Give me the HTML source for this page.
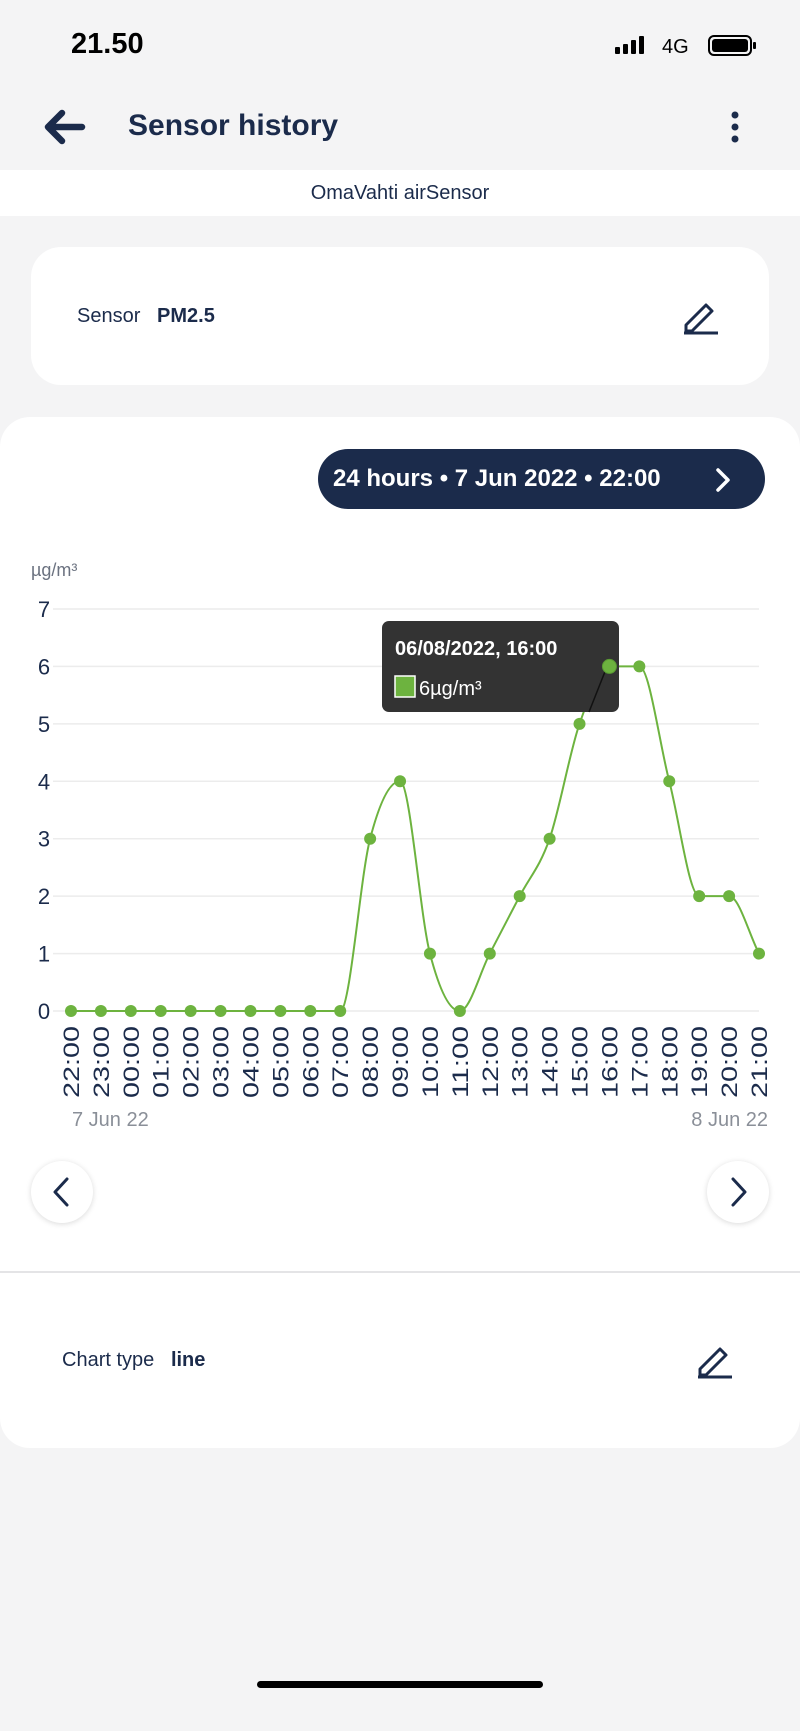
<!DOCTYPE html>
<html><head><meta charset="utf-8"><style>
*{margin:0;padding:0;box-sizing:border-box}
body{width:800px;height:1731px;background:#f4f4f5;font-family:"Liberation Sans",sans-serif;position:relative;overflow:hidden;color:#1b2b4b}
.a{position:absolute;white-space:nowrap}
</style></head><body>
<div class="a" style="left:71px;top:28px;font-size:29px;font-weight:bold;color:#000">21.50</div>
<svg class="a" style="left:612px;top:34px" width="150" height="22">
<rect x="3" y="13" width="5" height="7" rx="1" fill="#000"/><rect x="11" y="10" width="5" height="10" rx="1" fill="#000"/><rect x="19" y="6" width="5" height="14" rx="1" fill="#000"/><rect x="27" y="2" width="5" height="18" rx="1" fill="#000"/>
<text x="50" y="19" font-size="20" font-family="Liberation Sans" fill="#000">4G</text>
<rect x="97" y="2" width="42" height="19" rx="5" fill="none" stroke="#000" stroke-width="2"/><rect x="100" y="5" width="36" height="13" rx="3" fill="#000"/><rect x="141" y="8" width="3" height="7" rx="1" fill="#000"/></svg>
<svg class="a" style="left:42px;top:108px" width="44" height="38"><path d="M40 19H6M20 5L6 19L20 33" stroke="#1b2b4b" stroke-width="6.5" fill="none" stroke-linecap="round" stroke-linejoin="round"/></svg>
<div class="a" style="left:128px;top:109px;font-size:30px;font-weight:bold">Sensor history</div>
<svg class="a" style="left:729px;top:110px" width="12" height="36"><circle cx="6" cy="5" r="3.5" fill="#1b2b4b"/><circle cx="6" cy="17" r="3.5" fill="#1b2b4b"/><circle cx="6" cy="29" r="3.5" fill="#1b2b4b"/></svg>
<div class="a" style="left:0;top:170px;width:800px;height:46px;background:#fff;text-align:center;font-size:20px;line-height:46px">OmaVahti airSensor</div>
<div class="a" style="left:31px;top:247px;width:738px;height:138px;background:#fff;border-radius:30px"></div>
<div class="a" style="left:77px;top:305px;font-size:20px">Sensor&nbsp;&nbsp; <b>PM2.5</b></div>
<svg class="a" style="left:680px;top:296px" width="42" height="40"><path d="M6 29L26 9l6 6L12 35H6z" fill="none" stroke="#1b2b4b" stroke-width="3" stroke-linejoin="round"/><path d="M4 37h34" stroke="#1b2b4b" stroke-width="3"/></svg>
<div class="a" style="left:0;top:417px;width:800px;height:1031px;background:#fff;border-radius:30px"></div>
<div class="a" style="left:0;top:1271px;width:800px;height:2px;background:#e4e4e6"></div>
<div class="a" style="left:318px;top:449px;width:447px;height:60px;background:#1b2b4b;border-radius:30px;color:#fff;font-size:24px;font-weight:bold;line-height:60px;padding-left:15px">24 hours • 7 Jun 2022 • 22:00</div>
<svg class="a" style="left:712px;top:466px" width="22" height="28"><path d="M6 4l10 10L6 24" stroke="#fff" stroke-width="3.5" fill="none" stroke-linecap="round" stroke-linejoin="round"/></svg>
<svg class="a" style="left:0;top:0" width="800" height="1731" id="ch" font-family="Liberation Sans"></svg>
<div class="a" style="left:31px;top:1161px;width:62px;height:62px;border-radius:50%;background:#fff;box-shadow:0 1px 6px rgba(0,0,0,.15)"></div>
<div class="a" style="left:707px;top:1161px;width:62px;height:62px;border-radius:50%;background:#fff;box-shadow:0 1px 6px rgba(0,0,0,.15)"></div>
<svg class="a" style="left:31px;top:1161px" width="62" height="62"><path d="M36 18L24 31l12 13" stroke="#1b2b4b" stroke-width="3" fill="none" stroke-linecap="round" stroke-linejoin="round"/></svg>
<svg class="a" style="left:707px;top:1161px" width="62" height="62"><path d="M26 18l12 13-12 13" stroke="#1b2b4b" stroke-width="3" fill="none" stroke-linecap="round" stroke-linejoin="round"/></svg>
<div class="a" style="left:62px;top:1349px;font-size:20px">Chart type&nbsp;&nbsp; <b>line</b></div>
<svg class="a" style="left:694px;top:1340px" width="42" height="40"><path d="M6 29L26 9l6 6L12 35H6z" fill="none" stroke="#1b2b4b" stroke-width="3" stroke-linejoin="round"/><path d="M4 37h34" stroke="#1b2b4b" stroke-width="3"/></svg>
<div class="a" style="left:257px;top:1681px;width:286px;height:7px;border-radius:4px;background:#000"></div>
<script>
var s=document.getElementById('ch'),h='';
var x0=71,dx=(759-71)/23,y0=1011,dy=(1011-609)/7;
var d=[0,0,0,0,0,0,0,0,0,0,3,4,1,0,1,2,3,5,6,6,4,2,2,1];
var lb=['22','23','00','01','02','03','04','05','06','07','08','09','10','11','12','13','14','15','16','17','18','19','20','21'];
h+='<text x="31" y="576" font-size="18" fill="#6b7280">µg/m³</text>';
for(var i=0;i<=7;i++){var y=y0-i*dy;h+='<line x1="53" x2="759" y1="'+y+'" y2="'+y+'" stroke="#ececec" stroke-width="1.5"/><text x="44" y="'+(y+8)+'" font-size="22" fill="#1b2b4b" text-anchor="middle">'+i+'</text>';}
var P=d.map(function(v,i){return [x0+i*dx,y0-v*dy]});
// monotone cubic
var n=24,del=[],m=[];
for(i=0;i<n-1;i++)del.push((P[i+1][1]-P[i][1])/dx);
m[0]=del[0];m[n-1]=del[n-2];
for(i=1;i<n-1;i++){m[i]=(del[i-1]*del[i]<=0)?0:(del[i-1]+del[i])/2;}
for(i=0;i<n-1;i++){if(del[i]==0){m[i]=0;m[i+1]=0;continue;}var a=m[i]/del[i],b=m[i+1]/del[i],t=a*a+b*b;if(t>9){var tt=3/Math.sqrt(t);m[i]=tt*a*del[i];m[i+1]=tt*b*del[i];}}
var p='M'+P[0];
for(i=0;i<n-1;i++){var q=dx/3;p+='C'+(P[i][0]+q)+','+(P[i][1]+m[i]*q)+' '+(P[i+1][0]-q)+','+(P[i+1][1]-m[i+1]*q)+' '+P[i+1];}
h+='<path d="'+p+'" fill="none" stroke="#6db33f" stroke-width="2"/>';
P.forEach(function(q){h+='<circle cx="'+q[0]+'" cy="'+q[1]+'" r="6" fill="#6db33f"/>'});
lb.forEach(function(l,i){var x=x0+i*dx+8;h+='<text transform="translate('+x+',1098) rotate(-90)" font-size="22" textLength="72" lengthAdjust="spacingAndGlyphs" fill="#1b2b4b">'+l+':00</text>'});
h+='<text x="72" y="1126" font-size="20" fill="#8a8f98">7 Jun 22</text><text x="768" y="1126" font-size="20" fill="#8a8f98" text-anchor="end">8 Jun 22</text>';
h+='<rect x="382" y="621" width="237" height="91" rx="7" fill="#333"/><path d="M618 655L608 664L618 673z" fill="#333"/><line x1="608" y1="664" x2="589" y2="712" stroke="#111" stroke-width="1.5"/>';
h+='<text x="395" y="655" font-size="20" font-weight="bold" fill="#fff">06/08/2022, 16:00</text><rect x="395" y="676" width="20" height="21" fill="#6db33f" stroke="#fff" stroke-width="1.5"/><text x="419" y="695" font-size="20" fill="#fff">6µg/m³</text>';
h+='<circle cx="'+P[18][0]+'" cy="'+P[18][1]+'" r="7" fill="#6db33f" stroke="#5a9a33" stroke-width="1"/>';
s.innerHTML=h;
</script>
</body></html>
